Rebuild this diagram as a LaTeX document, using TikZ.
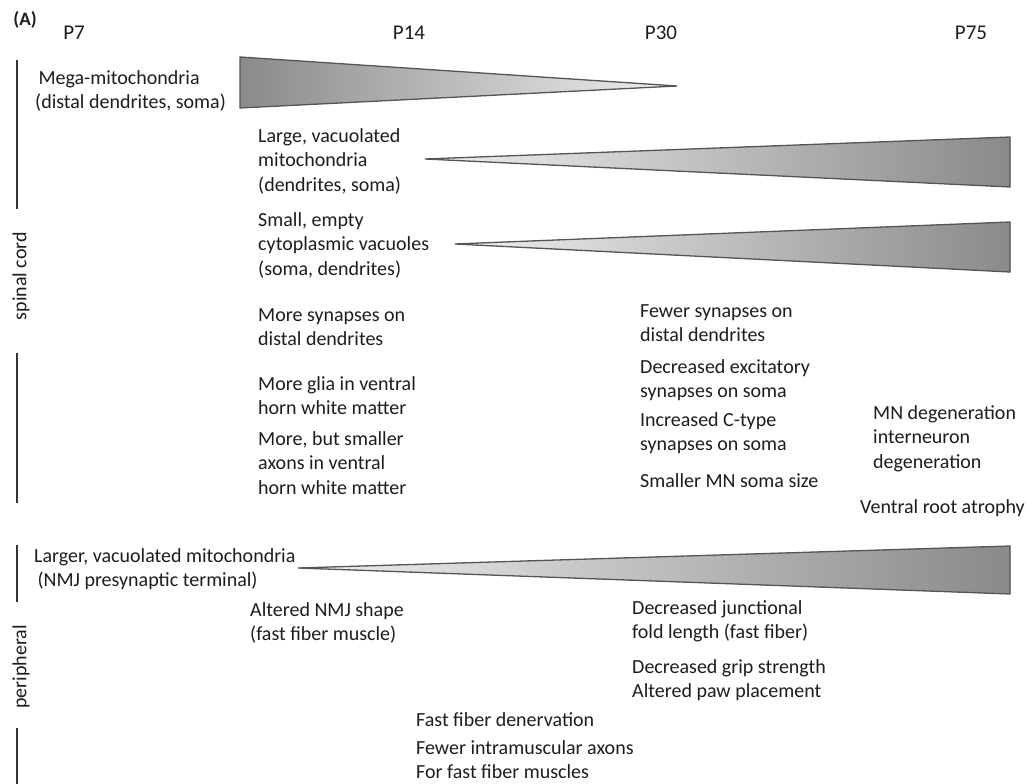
\documentclass[tikz,border=0pt]{standalone}
\usepackage{fontspec}
\setmainfont{Carlito}
\usepackage{tikz}

\definecolor{txtgray}{RGB}{30,28,28}
\definecolor{bargray}{RGB}{50,50,50}
\definecolor{tridark}{RGB}{138,138,140}
\definecolor{trilight}{RGB}{240,240,242}
\definecolor{triedge}{RGB}{85,85,85}

\tikzset{
  lbl/.style={anchor=north west, inner sep=0pt, align=left, text=txtgray,
    font=\fontsize{20}{24.5}\selectfont},
  age/.style={inner sep=0pt, text=txtgray, font=\fontsize{21}{26}\selectfont},
  side/.style={rotate=90, inner sep=0pt, text=txtgray, font=\fontsize{20}{24}\selectfont},
  bar/.style={draw=bargray, line width=2.8pt},
  tri/.style={draw=triedge, line width=1.3pt, line join=miter}
}

\begin{document}
\begin{tikzpicture}[x=1pt,y=1pt,yscale=-1,xscale=1]
\useasboundingbox (0,0) rectangle (1029,784);

% panel letter and ages
\node [inner sep=0pt, text=txtgray, font=\fontsize{19}{24}\selectfont\bfseries] (panel) at (25,20) {(A)};
\node [age] (p7) at (74,33) {P7};
\node [age] (p14) at (409,33) {P14};
\node [age] (p30) at (661,33) {P30};
\node [age] (p75) at (971,33) {P75};

% side labels
\node [side] (spinal) at (21,276) {spinal cord};
\node [side] (periph) at (21,667) {peripheral};
\coordinate (scTop) at (17,60);
\coordinate (scBot) at (17,503);
\coordinate (peTop) at (17,545);
\coordinate (peBot) at (17,784);
\draw [bar] (scTop) -- (scTop |- 0,209);
\draw [bar] (scBot |- 0,353) -- (scBot);
\draw [bar] (peTop) -- (peTop |- 0,602);
\draw [bar] (peBot |- 0,728) -- (peBot);

% wedges
\filldraw [tri, left color=tridark, right color=trilight] (240,57) -- (677,86) -- (240,108) -- cycle;
\filldraw [tri, left color=trilight, right color=tridark] (425,159) -- (1010,137) -- (1010,187) -- cycle;
\filldraw [tri, left color=trilight, right color=tridark] (455,244) -- (1010,222) -- (1010,272) -- cycle;
\filldraw [tri, left color=trilight, right color=tridark] (298,568) -- (1010,546) -- (1010,594) -- cycle;

% spinal cord, early
\node [lbl] (mega) at (35,70) {\,Mega-mitochondria\\(distal dendrites, soma)};
\node [lbl] (large) at (258,128) {Large, vacuolated\\mitochondria\\(dendrites, soma)};
\node [lbl] (small) at (258,212) {Small, empty\\cytoplasmic vacuoles\\(soma, dendrites)};
\node [lbl] (moresyn) at (258,308) {More synapses on\\distal dendrites};
\node [lbl] (glia) at (258,376) {More glia in ventral\\horn white matter};
\node [lbl] (axons) at (258,431) {More, but smaller\\axons in ventral\\horn white matter};

% spinal cord, late
\node [lbl] (fewsyn) at (640,304) {Fewer synapses on\\distal dendrites};
\node [lbl] (excit) at (640,359) {Decreased excitatory\\synapses on soma};
\node [lbl] (ctype) at (640,412) {Increased C-type\\synapses on soma};
\node [lbl] (soma) at (640,473) {Smaller MN soma size};
\node [lbl] (mndeg) at (873,405) {MN degeneration\\interneuron\\degeneration};
\node [lbl] (root) at (860,499) {Ventral root atrophy};

% peripheral
\node [lbl] (nmjmito) at (34,548) {Larger, vacuolated mitochondria\\\,(NMJ presynaptic terminal)};
\node [lbl] (nmjshape) at (250,602) {Altered NMJ shape\\(fast fiber muscle)};
\node [lbl] (fold) at (632,600) {Decreased junctional\\fold length (fast fiber)};
\node [lbl] (grip) at (632,659) {Decreased grip strength\\Altered paw placement};
\node [lbl] (denerv) at (416,712) {Fast fiber denervation};
\node [lbl] (fewax) at (416,740) {Fewer intramuscular axons\\For fast fiber muscles};

\end{tikzpicture}
\end{document}
